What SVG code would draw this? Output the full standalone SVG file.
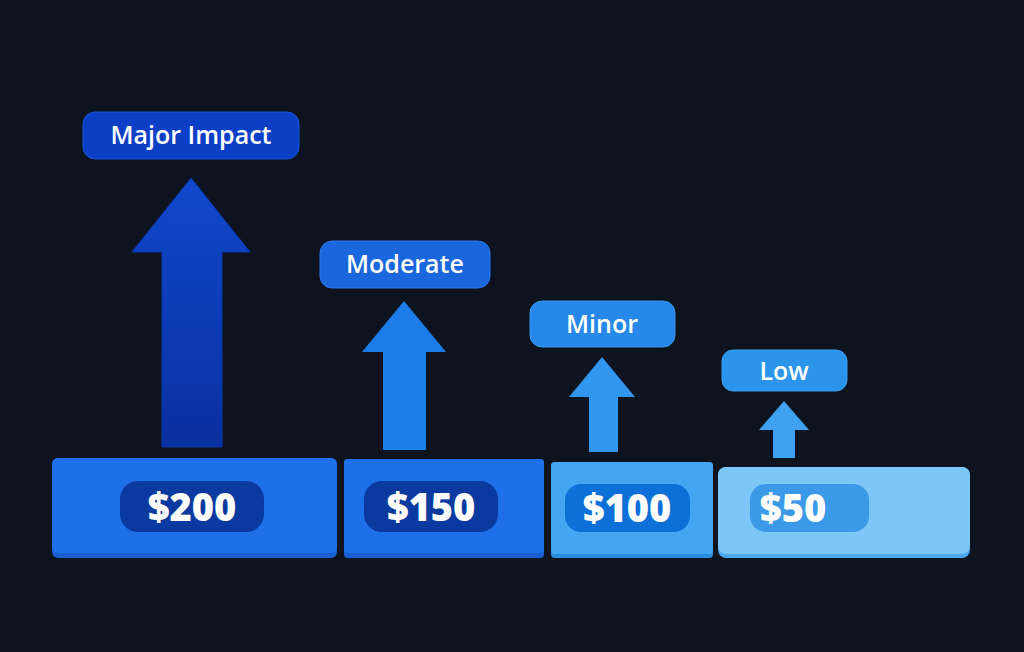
<svg xmlns="http://www.w3.org/2000/svg" width="1024" height="652" viewBox="0 0 1024 652">
<style>
.t{font-family:"Open Sans","Liberation Sans",sans-serif;fill:#fff;text-anchor:middle}
.lab{font-size:25px;font-weight:600}
.val{font-size:38px;font-weight:800}
</style>
<defs>
<linearGradient id="a1" x1="0" y1="0" x2="0" y2="1"><stop offset="0" stop-color="#1048cc"/><stop offset="1" stop-color="#0a2fa0"/></linearGradient>
</defs>
<rect width="1024" height="652" fill="#0d131f"/>
<g id="connectors">
<path id="arrow1" d="M191 178 L250 252 L222 252 L222 447 L162 447 L162 252 L132 252 Z" fill="url(#a1)" stroke="#0838b0" stroke-width="1"/>
<path id="arrow2" d="M404 301 L446 352 L426 352 L426 450 L383 450 L383 352 L362 352 Z" fill="#1d7de8"/>
<path id="arrow3" d="M602 357 L635 397 L618 397 L618 452 L589 452 L589 397 L569 397 Z" fill="#3096ef"/>
<path id="arrow4" d="M784 401 L809 430 L795 430 L795 458 L773 458 L773 430 L759 430 Z" fill="#3fa2f0"/>
</g>
<g id="bar200"><rect x="52" y="458" width="285" height="100" rx="6" fill="#1a5fd0"/><rect x="52" y="458" width="285" height="95" rx="6" fill="#1f6fe8"/><rect x="120" y="481" width="144" height="51" rx="18" fill="#0a3aa0"/><text class="t val" x="192" y="521">$200</text></g>
<g id="bar150"><rect x="344" y="459" width="200" height="99" rx="4" fill="#1a5fd0"/><rect x="344" y="459" width="200" height="94" rx="4" fill="#1f6fe8"/><rect x="364" y="481" width="134" height="51" rx="18" fill="#0a3aa0"/><text class="t val" x="431" y="521">$150</text></g>
<g id="bar100"><rect x="551" y="462" width="162" height="96" rx="4" fill="#2a8ae0"/><rect x="551" y="462" width="162" height="92" rx="4" fill="#44a6f2"/><rect x="565" y="484" width="125" height="48" rx="16" fill="#0d6fd8"/><text class="t val" x="627" y="522">$100</text></g>
<g id="bar50"><rect x="718" y="467" width="252" height="91" rx="8" fill="#4aa8ee"/><rect x="718" y="467" width="252" height="87" rx="8" fill="#7cc6f8"/><rect x="750" y="484" width="119" height="48" rx="16" fill="#3a9ae8"/><text class="t val" x="793" y="522">$50</text></g>
<g id="labMajor"><rect x="83" y="112" width="216" height="47" rx="12" fill="#0b3fc6" stroke="#1a55d8"/><text class="t lab" x="191" y="144">Major Impact</text></g>
<g id="labModerate"><rect x="320" y="241" width="170" height="47" rx="12" fill="#1a66dc" stroke="#2a78ea"/><text class="t lab" x="405" y="273">Moderate</text></g>
<g id="labMinor"><rect x="530" y="301" width="145" height="46" rx="12" fill="#2688e8" stroke="#3696f0"/><text class="t lab" x="602" y="333">Minor</text></g>
<g id="labLow"><rect x="722" y="350" width="125" height="41" rx="11" fill="#2b95ec" stroke="#3aa0f0"/><text class="t lab" x="784" y="380">Low</text></g>
</svg>
